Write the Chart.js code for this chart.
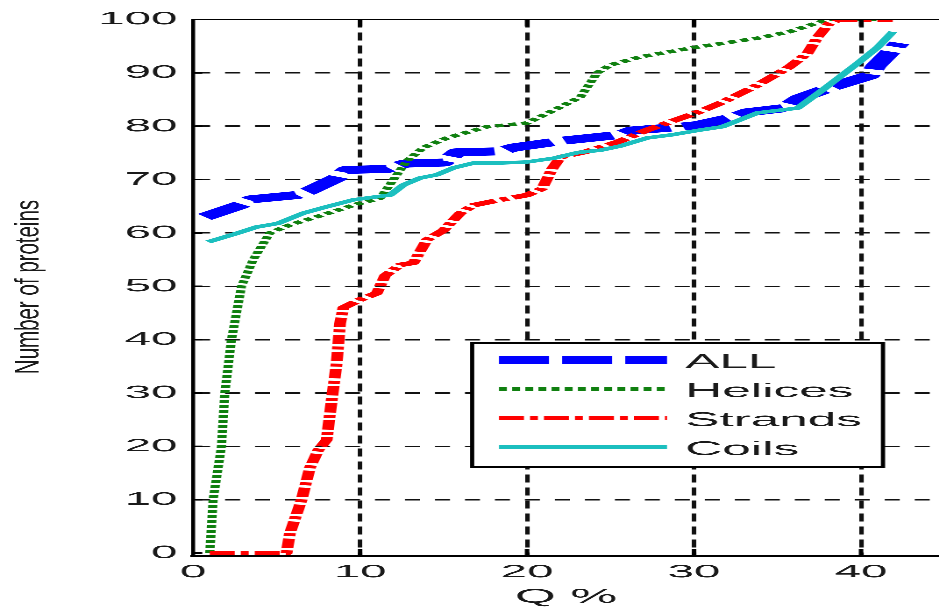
<!DOCTYPE html>
<html><head><meta charset="utf-8">
<script src="https://cdn.jsdelivr.net/npm/chart.js@4.4.1/dist/chart.umd.min.js"></script>
<style>
html,body{margin:0;padding:0;background:#fff;overflow:hidden;width:939px;height:610px;}
#wrap{position:absolute;left:0;top:0;width:357px;height:610px;transform:scaleX(2.6303);transform-origin:0 0;}
canvas{display:block;}
</style></head><body>
<div id="wrap"><canvas id="c" width="357" height="610"></canvas></div>
<script>
// ---- data ----
const seriesNames = ['ALL', 'Helices', 'Strands', 'Coils'];

const allX = [0.7,2.8,3.5,6.2,6.9,8.6,9.2,11.6,12.7,15.0,15.8,18.4,19.2,22.2,25.6,26.3,29.2,30.2,32.3,33.2,35.4,36.3,38.2,40.5,40.9,41.9,42.3];
const allY = [63,65.2,66.3,67.1,67.8,70.3,71.8,72.0,73.0,73.2,75.1,75.3,76.0,77.3,78.4,79.2,79.9,80.2,81.6,82.6,83.4,85.2,87.3,89.5,91.3,94.4,95.6];

const helX = [1.0,1.2,1.7,1.9,2.3,2.9,3.6,4.6,5.8,7.8,9.8,11.2,12.0,12.8,13.8,15.2,17.6,20.0,21.6,23.2,24.2,25.0,26.8,29.9,33.8,35.7,37.5,38.1,41.9];
const helY = [0,10,20,30,40,50,55,60,61.5,63.4,65.4,66.5,70,73.5,76,77.8,79.9,80.6,83,85.5,90,91.5,93,94.7,96.5,97.7,99.5,100,100];

const strX = [1.0,5.6,5.8,6.5,7.0,7.5,8.0,8.2,8.6,8.8,9.0,10.0,11.0,11.5,12.4,13.2,14.0,15.0,16.0,16.8,18.4,20.0,20.9,21.5,22.0,23.5,25.4,27.2,29.2,30.4,31.7,33.8,35.7,36.8,37.4,38.1,38.7,41.9];
const strY = [0,0,3.7,10,16,19.3,21.2,26.2,35.6,43,46,47.5,48.7,52,54,54.4,58.7,60.5,63.7,65.2,66.2,67.1,68.3,72,74.2,75.2,77,79.3,81.5,82.8,84.5,87.7,91.1,93.7,96.7,99.3,100,100];

const coiX = [0.9,2.5,3.8,5.1,6.6,8.0,9.6,10.8,11.8,12.6,13.6,14.6,15.6,16.8,18.4,20.0,21.6,23.1,24.4,25.6,27.2,28.7,30.4,31.7,33.8,36.2,37.7,39.8,41.0,41.9];
const coiY = [58.3,59.8,61.1,61.8,63.7,64.9,66.2,66.7,67.1,69,70.3,70.9,72.2,73.1,73.1,73.3,74,75.1,75.5,76.3,77.8,78.4,79.3,79.9,82.5,83.4,86.8,91.8,94.8,97.7];

const xTickValues = [0, 10, 20, 30, 40];
const yTickValues = [0, 10, 20, 30, 40, 50, 60, 70, 80, 90, 100];
const xTitle = 'Q %';
const yTitle = 'Number of proteins';

// ---- build ----
const pts = (xs, ys) => xs.map((x, i) => ({x: x, y: ys[i]}));
const FONT = '"Liberation Sans", Arial, sans-serif';

const datasets = [
  {label: seriesNames[0], data: pts(allX, allY), borderColor: '#0000ff', borderWidth: 8, borderDash: [19, 5], order: 4},
  {label: seriesNames[1], data: pts(helX, helY), borderColor: '#108010', borderWidth: 3.5, borderDash: [3, 2], order: 3},
  {label: seriesNames[2], data: pts(strX, strY), borderColor: '#ff0000', borderWidth: 4.5, borderDash: [9.5, 2.3, 3, 2.3], order: 2},
  {label: seriesNames[3], data: pts(coiX, coiY), borderColor: '#1cbfbf', borderWidth: 3.5, borderDash: [], order: 1}
].map(d => Object.assign(d, {pointRadius: 0, tension: 0, fill: false, borderCapStyle: 'butt', borderJoinStyle: 'round'}));

const decor = {
  id: 'decor',
  afterDraw(chart) {
    const ctx = chart.ctx, a = chart.chartArea, xs = chart.scales.x, ys = chart.scales.y;
    ctx.save();
    ctx.setLineDash([]);
    ctx.strokeStyle = '#000';
    // top box line
    ctx.lineWidth = 1.5;
    ctx.beginPath(); ctx.moveTo(a.left, a.top); ctx.lineTo(a.right, a.top); ctx.stroke();
    // inward tick marks
    ctx.lineWidth = 1.7;
    xTickValues.forEach(v => {
      if (v === 0) return;
      const px = xs.getPixelForValue(v);
      ctx.beginPath();
      ctx.moveTo(px, a.bottom); ctx.lineTo(px, a.bottom - 7);
      ctx.moveTo(px, a.top); ctx.lineTo(px, a.top + 7);
      ctx.stroke();
    });
    ctx.lineWidth = 1.5;
    yTickValues.forEach(v => {
      const py = ys.getPixelForValue(v);
      ctx.beginPath(); ctx.moveTo(a.left, py); ctx.lineTo(a.left + 3.5, py); ctx.stroke();
    });
    ctx.restore();

    // y axis title
    ctx.save();
    ctx.fillStyle = '#1a1a1a';
    ctx.font = '20.5px ' + FONT;
    ctx.translate(11, 287);
    ctx.rotate(-Math.PI / 2);
    ctx.scale(1, 0.63);
    ctx.textAlign = 'center';
    ctx.textBaseline = 'middle';
    ctx.fillText(yTitle, 0, 0);
    ctx.restore();

    // legend box
    const L = 179.5, T = 343, R = 335.7, B = 467;
    const lineY = [360, 389, 418, 447];
    const textY = [368, 397, 426, 455];
    ctx.save();
    ctx.fillStyle = '#fff';
    ctx.fillRect(L, T, R - L, B - T);
    ctx.strokeStyle = '#000';
    ctx.lineWidth = 1.6;
    ctx.setLineDash([]);
    ctx.strokeRect(L, T, R - L, B - T);
    chart.data.datasets.forEach((d, i) => {
      ctx.save();
      ctx.strokeStyle = d.borderColor;
      ctx.lineWidth = d.borderWidth;
      ctx.lineCap = 'butt';
      ctx.setLineDash(d.borderDash || []);
      ctx.beginPath(); ctx.moveTo(189.7, lineY[i]); ctx.lineTo(253.6, lineY[i]); ctx.stroke();
      ctx.restore();
      ctx.fillStyle = '#1a1a1a';
      ctx.font = '19.5px ' + FONT;
      ctx.textAlign = 'left';
      ctx.textBaseline = 'alphabetic';
      ctx.fillText(d.label, 260.5, textY[i]);
    });
    ctx.restore();
  }
};

new Chart(document.getElementById('c'), {
  type: 'line',
  data: {datasets: datasets},
  options: {
    responsive: false,
    animation: false,
    devicePixelRatio: 3,
    layout: {padding: {top: 19.5, left: 0, right: 0, bottom: 0}},
    plugins: {legend: {display: false}, tooltip: {enabled: false}},
    scales: {
      x: {
        type: 'linear', min: 0, max: 44.67,
        afterFit: s => { s.height = 54.3; },
        afterBuildTicks: s => { s.ticks = xTickValues.map(v => ({value: v})); },
        ticks: {stepSize: 10, includeBounds: false, padding: 6, color: '#1a1a1a', font: {size: 18, family: FONT}, maxRotation: 0},
        grid: {color: c => (c.tick && c.tick.value === 0) ? 'rgba(0,0,0,0)' : '#111', lineWidth: 1.7, drawTicks: false},
        border: {display: true, color: '#000', width: 2, dash: [8, 5]},
        title: {display: true, text: xTitle, color: '#1a1a1a', font: {size: 20, family: FONT}, padding: {top: 0, bottom: 1}}
      },
      y: {
        type: 'linear', min: -0.5, max: 100,
        afterFit: s => { s.width = 73.4; },
        afterBuildTicks: s => { s.ticks = yTickValues.map(v => ({value: v})); },
        ticks: {stepSize: 10, includeBounds: false, padding: 6, color: '#1a1a1a', font: {size: 18, family: FONT}},
        grid: {color: c => (c.tick && (c.tick.value === 0 || c.tick.value === 100)) ? 'rgba(0,0,0,0)' : '#111', lineWidth: 1.5, drawTicks: false},
        border: {display: true, color: '#000', width: 1.5, dash: [5.7, 5.7]}
      }
    }
  },
  plugins: [decor]
});
</script>
</body></html>
